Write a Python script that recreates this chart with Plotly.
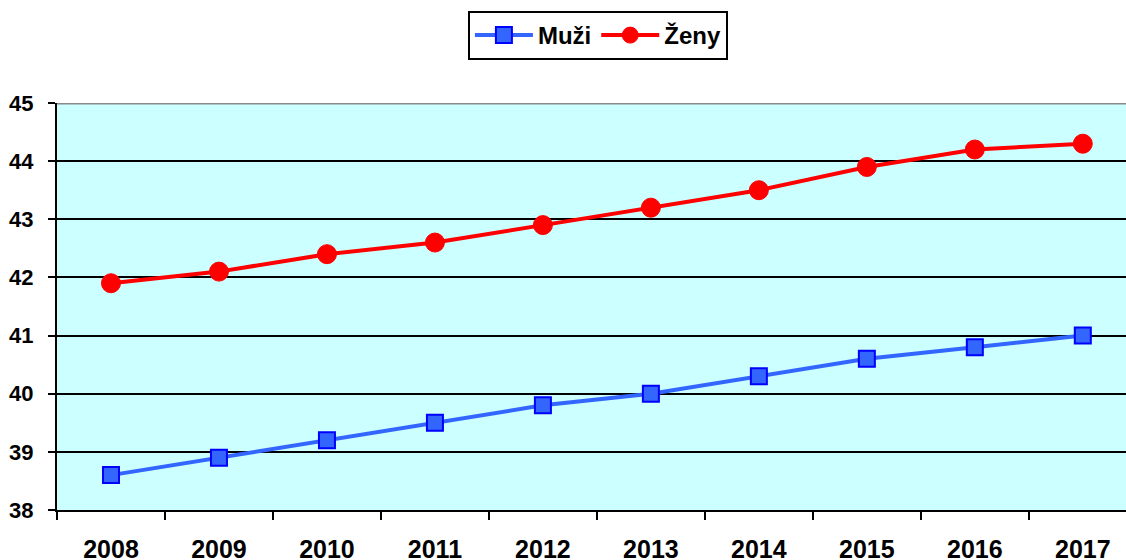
import plotly.graph_objects as go

years = ["2008", "2009", "2010", "2011", "2012", "2013", "2014", "2015", "2016", "2017"]
muzi = [38.6, 38.9, 39.2, 39.5, 39.8, 40.0, 40.3, 40.6, 40.8, 41.0]
zeny = [41.9, 42.1, 42.4, 42.6, 42.9, 43.2, 43.5, 43.9, 44.2, 44.3]

font_family = "Arial, Liberation Sans, sans-serif"

fig = go.Figure()
fig.add_trace(go.Scatter(
    x=years, y=muzi, name="Muži", mode="lines+markers",
    line=dict(color="#3366FF", width=4),
    marker=dict(symbol="square", size=16, color="#3366FF", line=dict(color="#0000FF", width=2)),
))
fig.add_trace(go.Scatter(
    x=years, y=zeny, name="Ženy", mode="lines+markers",
    line=dict(color="#FF0000", width=4),
    marker=dict(symbol="circle", size=19, color="#FF0000", line=dict(color="#FF0000", width=1)),
))

fig.add_shape(type="line", xref="paper", yref="y", x0=0, x1=1, y0=45, y1=45,
              line=dict(color="#888888", width=3), layer="above")

fig.update_layout(
    width=1126, height=560,
    margin=dict(l=57, r=0, t=103, b=50, autoexpand=False),
    paper_bgcolor="white",
    plot_bgcolor="#CCFFFF",
    font=dict(family=font_family, size=22, color="black", weight="bold"),
    showlegend=True,
    legend=dict(
        orientation="h", x=0.506, xanchor="center", y=1.226, yanchor="top",
        bordercolor="black", borderwidth=2, bgcolor="white",
        font=dict(family=font_family, size=24, color="black", weight="bold"),
        itemwidth=58, tracegroupgap=0,
    ),
    xaxis=dict(
        type="category", range=[-0.5, 9.4],
        showgrid=False, showline=True, linecolor="black", linewidth=2,
        ticks="outside", tickson="boundaries", ticklen=8, tickwidth=2, tickcolor="black",
        ticklabelstandoff=16,
        tickfont=dict(family=font_family, size=25, color="black", weight="bold"),
        zeroline=False, automargin=False,
    ),
    yaxis=dict(
        range=[38, 45], dtick=1, tick0=38,
        showgrid=True, gridcolor="black", gridwidth=2,
        showline=True, linecolor="black", linewidth=2,
        ticks="outside", ticklen=7, tickwidth=2, tickcolor="black",
        ticklabelstandoff=10,
        tickfont=dict(family=font_family, size=22, color="black", weight="bold"),
        zeroline=False, automargin=False,
    ),
)

fig.write_html(
    "out.html",
    config={"displayModeBar": False},
    post_script="document.body.style.margin='0';document.body.style.overflow='hidden';",
)
